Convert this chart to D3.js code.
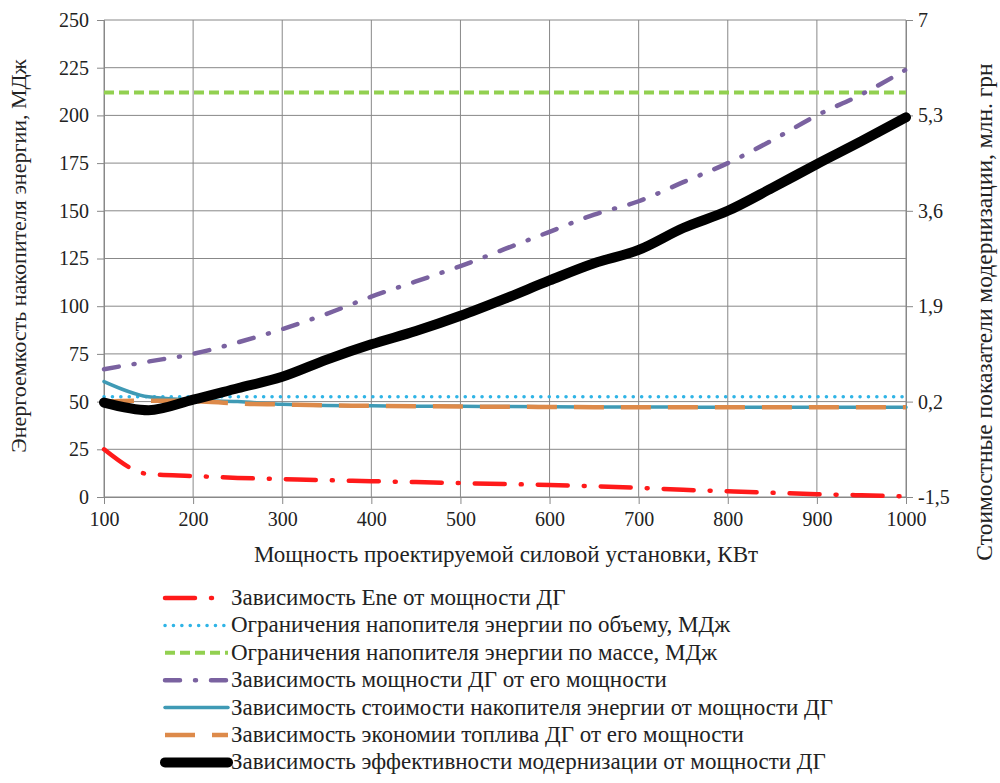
<!DOCTYPE html>
<html>
<head>
<meta charset="utf-8">
<script src="https://cdn.jsdelivr.net/npm/d3@7"></script>
<style>
  body { margin: 0; background: #fff; }
</style>
</head>
<body>
<svg id="chart" width="1000" height="783"></svg>
<script>
// мощность, кВт
const kw = [100,150,200,250,300,350,400,450,500,550,600,650,700,750,800,850,900,950,1000];

// все ряды в единицах левой оси (МДж)
const ene      = [25,12,11,10,9.4,8.8,8.3,7.8,7.3,6.8,6.3,5.6,4.8,3.8,3,2.2,1.5,0.9,0.3];
const volLim   = [52.5,52.5,52.5,52.5,52.5,52.5,52.5,52.5,52.5,52.5,52.5,52.5,52.5,52.5,52.5,52.5,52.5,52.5,52.5];
const massLim  = [212,212,212,212,212,212,212,212,212,212,212,212,212,212,212,212,212,212,212];
const power    = [67,71,75,81,88,96,105,113,121,130,139,148,155,165,175,187,200,211,224];
const cost     = [60.5,52.5,50.8,50,48.6,48,47.8,47.6,47.5,47.4,47.3,47.2,47.2,47.1,47.1,47,47,47,47];
const fuel     = [50,50.5,50.3,49,48.5,48,47.8,47.6,47.4,47.3,47.2,47.1,47.1,47,47,47,47,47,47];
const effect   = [49.5,45.5,51,57,63,72,80,87,95,104,113.5,122.5,129.5,141,150,162,174.5,186.5,199];

const xTicks = [100,200,300,400,500,600,700,800,900,1000];
const yTicks = [0,25,50,75,100,125,150,175,200,225,250];
const y2Ticks = [-1.5,0.2,1.9,3.6,5.3,7];

const names = [
  "Зависимость Ene от мощности ДГ",
  "Ограничения напопителя энергии по объему, МДж",
  "Ограничения напопителя энергии по массе, МДж",
  "Зависимость мощности ДГ от его мощности",
  "Зависимость стоимости накопителя энергии от мощности ДГ",
  "Зависимость экономии топлива ДГ от его мощности",
  "Зависимость эффективности модернизации от мощности ДГ"
];

const series = [
  {name: names[0], values: ene,     color: "#ff1a1a", width: 4.5, dash: "30,16,1,16", cap: "round"},
  {name: names[1], values: volLim,  color: "#2fb4e6", width: 3.5, dash: "0.1,8.3", cap: "round"},
  {name: names[2], values: massLim, color: "#92d050", width: 4,   dash: "10,5", cap: "butt"},
  {name: names[3], values: power,   color: "#7a62a0", width: 4.5, dash: "15,15,1,15", cap: "round"},
  {name: names[4], values: cost,    color: "#3f9ab5", width: 3.5, dash: null, cap: "round"},
  {name: names[5], values: fuel,    color: "#dd8a4a", width: 4.5, dash: "30,17", cap: "butt"},
  {name: names[6], values: effect,  color: "#000000", width: 10,  dash: null, cap: "round"}
];

const svg = d3.select("#chart");
const mLeft = 104, mRight = 906, mTop = 20, mBottom = 497;
const font = "'Liberation Serif'";

const x = d3.scaleLinear().domain([100, 1000]).range([mLeft, mRight]);
const y = d3.scaleLinear().domain([0, 250]).range([mBottom, mTop]);
const y2 = d3.scaleLinear().domain([-1.5, 7]).range([mBottom, mTop]);

// сетка
svg.append("g")
  .selectAll("line")
  .data(xTicks)
  .enter().append("line")
  .attr("x1", d => x(d)).attr("x2", d => x(d))
  .attr("y1", mTop).attr("y2", mBottom)
  .attr("stroke", "#888").attr("stroke-width", 1);

svg.append("g")
  .selectAll("line")
  .data(yTicks)
  .enter().append("line")
  .attr("x1", mLeft).attr("x2", mRight)
  .attr("y1", d => y(d)).attr("y2", d => y(d))
  .attr("stroke", "#888").attr("stroke-width", 1);

// оси
const gx = svg.append("g").attr("transform", `translate(0,${mBottom})`)
  .call(d3.axisBottom(x).tickValues(xTicks).tickSize(7).tickPadding(8).tickFormat(d => String(d)));
const gy = svg.append("g").attr("transform", `translate(${mLeft},0)`)
  .call(d3.axisLeft(y).tickValues(yTicks).tickSize(7).tickPadding(8).tickFormat(d => String(d)));
const gy2 = svg.append("g").attr("transform", `translate(${mRight},0)`)
  .call(d3.axisRight(y2).tickValues(y2Ticks).tickSize(7).tickPadding(5)
    .tickFormat(d => String(d).replace(".", ",")));

[gx, gy, gy2].forEach(g => {
  g.attr("font-family", null).attr("font-size", null);
  g.select(".domain").attr("stroke", "#888");
  g.selectAll(".tick line").attr("stroke", "#888");
  g.selectAll(".tick text")
    .style("font-family", font)
    .style("font-size", "20px").attr("fill", "#222");
});

// линии
const line = d3.line()
  .x((d, i) => x(kw[i]))
  .y(d => y(d))
  .curve(d3.curveMonotoneX);

svg.append("g")
  .selectAll("path")
  .data(series)
  .enter().append("path")
  .attr("d", d => line(d.values))
  .attr("fill", "none")
  .attr("stroke", d => d.color)
  .attr("stroke-width", d => d.width)
  .attr("stroke-dasharray", d => d.dash)
  .attr("stroke-linecap", d => d.cap)
  .attr("stroke-linejoin", "round");

// подписи осей
svg.append("text")
  .attr("transform", `translate(26,256) rotate(-90)`)
  .attr("text-anchor", "middle")
  .style("font-family", font)
  .style("font-size", "22px")
  .attr("fill", "#222")
  .text("Энергоемкость накопителя энергии, МДж");

svg.append("text")
  .attr("transform", `translate(992,312) rotate(-90)`)
  .attr("text-anchor", "middle")
  .style("font-family", font)
  .style("font-size", "23.5px")
  .attr("fill", "#222")
  .text("Стоимостные показатели модернизации, млн. грн");

svg.append("text")
  .attr("x", 506).attr("y", 562)
  .attr("text-anchor", "middle")
  .style("font-family", font)
  .style("font-size", "23px")
  .attr("fill", "#222")
  .text("Мощность проектируемой силовой установки, КВт");

// легенда
const legend = svg.append("g")
  .selectAll("g.legend")
  .data(series)
  .enter().append("g")
  .attr("class", "legend")
  .attr("transform", (d, i) => `translate(0,${598 + i * 27.4})`);

legend.append("line")
  .attr("x1", 165).attr("x2", 228)
  .attr("y1", 0).attr("y2", 0)
  .attr("stroke", d => d.color)
  .attr("stroke-width", d => d.width)
  .attr("stroke-dasharray", d => d.dash)
  .attr("stroke-linecap", d => d.cap);

legend.append("text")
  .attr("x", 231).attr("y", 7)
  .style("font-family", font)
  .style("font-size", "23px")
  .attr("fill", "#222")
  .text(d => d.name);
</script>
</body>
</html>
